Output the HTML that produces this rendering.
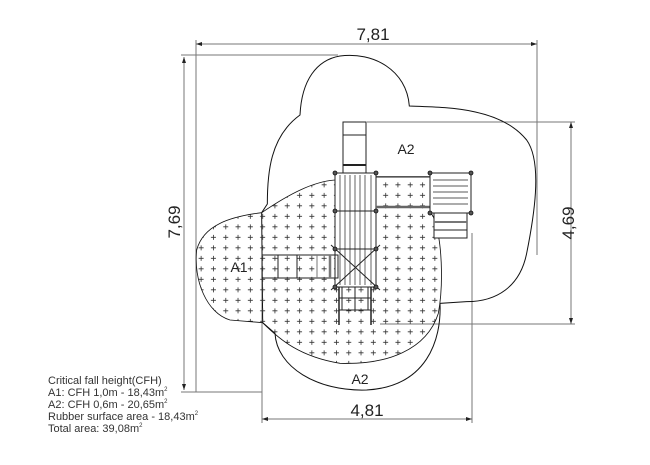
<!DOCTYPE html>
<html><head><meta charset="utf-8"><style>
html,body{margin:0;padding:0;background:#fff;}
svg{display:block;}
text{font-family:"Liberation Sans",sans-serif;}
</style></head><body>
<svg width="650" height="465" viewBox="0 0 650 465" xmlns="http://www.w3.org/2000/svg">
<defs>
<pattern id="pl" x="9" y="12" width="36.9" height="31.5" patternUnits="userSpaceOnUse">
<path d="M10 10h15M17.5 2.5v15" stroke="#333" stroke-width="2.4"/>
</pattern>
</defs>
<g stroke="#777" stroke-width="1" fill="none">
<line x1="196" y1="44" x2="537" y2="44"/>
<line x1="196" y1="40" x2="196" y2="392"/>
<line x1="537" y1="40" x2="537" y2="255"/>
<line x1="181" y1="55" x2="338" y2="55"/>
<line x1="184" y1="57" x2="184" y2="390"/>
<line x1="181" y1="392" x2="262" y2="392"/>
<line x1="367" y1="122" x2="575" y2="122"/>
<line x1="380" y1="324" x2="575" y2="324"/>
<line x1="571" y1="122" x2="571" y2="324"/>
<line x1="262" y1="255" x2="262" y2="423"/>
<line x1="472" y1="233" x2="472" y2="423"/>
<line x1="262" y1="419" x2="472" y2="419"/>
</g>
<g fill="#222">
<path d="M196 44l6-2v4z"/><path d="M537 44l-6-2v4z"/>
<path d="M184 57l-2 6h4z"/><path d="M184 390l-2-6h4z"/>
<path d="M571 122l-2 6h4z"/><path d="M571 324l-2-6h4z"/>
<path d="M262 419l6-2v4z"/><path d="M472 419l-6-2v4z"/>
</g>
<text x="373" y="40" font-size="17" text-anchor="middle" fill="#222">7,81</text>
<text x="367" y="416" font-size="17" text-anchor="middle" fill="#222">4,81</text>
<text transform="translate(574 223) rotate(-90)" font-size="17" text-anchor="middle" fill="#222">4,69</text>
<text transform="translate(180 222) rotate(-90)" font-size="17" text-anchor="middle" fill="#222">7,69</text>

<g transform="translate(180 20) scale(0.33333)" stroke="#111" stroke-width="3" fill="none">
<path d="M360 285 C 365 180, 410 120, 480 108 C 580 95, 680 150, 688 258 C 800 262, 960 262, 1040 360 C 1090 430, 1060 600, 1040 700 C 1020 800, 950 845, 860 845 L 780 850 C 785 960, 740 1100, 560 1110 C 410 1115, 290 1040, 285 940 L 248 908 L 245 578 L 262 552 C 262 460, 270 350, 360 285 Z"/>
<path d="M245 578 C 150 590, 70 615, 50 690 C 40 780, 80 880, 150 900 L 248 908 C 300 960, 360 1010, 480 1030 C 620 1035, 740 990, 775 880 C 790 800, 785 700, 775 645 L 760 590 L 750 575 L 750 470 L 590 470 L 465 480 C 400 485, 330 520, 245 578 Z" fill="url(#pl)" stroke-width="2.5"/>
</g>
<g stroke="#222" stroke-width="1" fill="#fff">
<rect x="343" y="122" width="23" height="51"/>
<line x1="343" y1="135" x2="366" y2="135"/><line x1="343" y1="165" x2="366" y2="165" stroke-width="2"/>
<rect x="335" y="173" width="41" height="114"/>
<line x1="335" y1="211" x2="376" y2="211"/><line x1="335" y1="249" x2="376" y2="249"/>
<g stroke-width="0.7">
<line x1="340" y1="175" x2="340" y2="285"/><line x1="345" y1="175" x2="345" y2="285"/><line x1="350" y1="175" x2="350" y2="285"/><line x1="355" y1="175" x2="355" y2="285"/><line x1="360" y1="175" x2="360" y2="285"/><line x1="365" y1="175" x2="365" y2="285"/><line x1="371" y1="175" x2="371" y2="285"/>
</g>
<line x1="331" y1="245" x2="380" y2="290"/><line x1="380" y1="245" x2="331" y2="290"/>
<line x1="376" y1="177" x2="430" y2="177"/>
<line x1="376" y1="207" x2="430" y2="207" stroke-width="2.5" stroke="#666"/>
<rect x="430" y="173" width="41" height="40"/>
<g stroke-width="0.8"><line x1="433" y1="180" x2="468" y2="180"/><line x1="433" y1="186" x2="468" y2="186"/><line x1="433" y1="192" x2="468" y2="192"/><line x1="433" y1="198" x2="468" y2="198"/><line x1="433" y1="204" x2="468" y2="204"/></g>
<rect x="434" y="213" width="33" height="25" fill="#fff"/>
<line x1="434" y1="222" x2="467" y2="222" stroke-width="2" stroke="#777"/><line x1="434" y1="230" x2="467" y2="230"/>
<rect x="262" y="255" width="76" height="23" fill="none"/>
<line x1="278" y1="255" x2="278" y2="278"/><line x1="297" y1="255" x2="297" y2="278"/><line x1="317" y1="255" x2="317" y2="278" stroke="#777"/><line x1="330" y1="255" x2="330" y2="278" stroke-width="2.5" stroke="#777"/>
<line x1="339" y1="287" x2="339" y2="325" stroke-width="1.5"/><line x1="371" y1="287" x2="371" y2="325" stroke-width="1.5"/>
<line x1="342" y1="287" x2="342" y2="310"/><line x1="368" y1="287" x2="368" y2="310"/>
<line x1="355" y1="287" x2="355" y2="312"/>
<line x1="339" y1="298" x2="371" y2="298"/><line x1="339" y1="310" x2="371" y2="310"/>
</g>
<g fill="#555" stroke="#111" stroke-width="0.8">
<circle cx="335" cy="173" r="2"/><circle cx="376" cy="173" r="2"/><circle cx="335" cy="211" r="2"/><circle cx="376" cy="211" r="2"/>
<circle cx="335" cy="249" r="2"/><circle cx="376" cy="249" r="2"/><circle cx="335" cy="287" r="2"/><circle cx="376" cy="287" r="2"/>
<circle cx="430" cy="173" r="2"/><circle cx="471" cy="173" r="2"/><circle cx="430" cy="213" r="2"/><circle cx="471" cy="213" r="2"/>
</g>
<text x="406" y="154" font-size="14" text-anchor="middle" fill="#222">A2</text>
<text x="360" y="384" font-size="14" text-anchor="middle" fill="#222">A2</text>
<text x="239" y="272" font-size="14" text-anchor="middle" fill="#222">A1</text>
<g font-size="11" fill="#333">
<text x="48" y="384">Critical fall height(CFH)</text>
<text x="48" y="396">A1: CFH 1,0m - 18,43m<tspan font-size="6" dy="-5">2</tspan></text>
<text x="48" y="408" dy="0">A2: CFH 0,6m - 20,65m<tspan font-size="6" dy="-5">2</tspan></text>
<text x="48" y="420">Rubber surface area - 18,43m<tspan font-size="6" dy="-5">2</tspan></text>
<text x="48" y="432">Total area: 39,08m<tspan font-size="6" dy="-5">2</tspan></text>
</g>
</svg>
</body></html>
